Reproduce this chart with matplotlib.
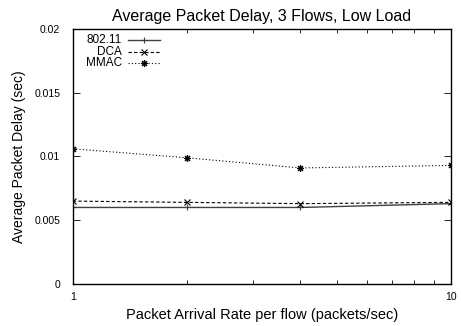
import numpy as np
import matplotlib
matplotlib.use('Agg')
import matplotlib.pyplot as plt
from matplotlib.ticker import LogLocator, NullFormatter, FixedLocator

plt.rcParams['font.family'] = ['Liberation Sans', 'DejaVu Sans']

## packet arrival rate per flow (packets/sec)
rate = [1, 2, 4, 10]
## average packet delay (sec)
d_80211 = [0.0060, 0.0060, 0.0060, 0.0063]
d_dca = [0.0065, 0.0064, 0.0063, 0.0064]
d_mmac = [0.0106, 0.0099, 0.0091, 0.0093]
names = ['802.11', 'DCA', 'MMAC']

fig = plt.figure(figsize=(4.61, 3.26), dpi=100)
ax = fig.add_axes([0.158, 0.129, 0.820, 0.782])

styles = [dict(color='#404040', ls='-', marker='+', lw=1.0, ms=5),
          dict(color='black', ls=(0, (3, 2)), marker='x', lw=0.8, ms=4),
          dict(color='black', ls=(0, (1, 2)), marker=(8, 2, 0), lw=0.8, ms=5)]
for y, s in zip([d_80211, d_dca, d_mmac], styles):
    ax.plot(rate, y, mew=0.8, **s)

ax.set_xscale('log')
ax.set_xlim(1, 10)
ax.set_ylim(0, 0.02)
ax.xaxis.set_major_locator(FixedLocator([1, 10]))
ax.xaxis.set_minor_locator(LogLocator(base=10, subs=np.arange(2, 10)))
ax.xaxis.set_minor_formatter(NullFormatter())
ax.set_xticklabels(['1', '10'])
ax.set_yticks([0, 0.005, 0.01, 0.015, 0.02])
ax.set_yticklabels(['0', '0.005', '0.01', '0.015', '0.02'])
ax.tick_params(which='both', direction='in', top=True, right=True,
               labelsize=7.5, length=5, width=0.6)
ax.tick_params(which='minor', length=3)
ax.tick_params(axis='x', pad=6)
ax.tick_params(axis='y', pad=9)
for sp in ax.spines.values():
    sp.set_linewidth(1.0)

ax.set_title('Average Packet Delay, 3 Flows, Low Load', fontsize=11.5, pad=6)
ax.set_xlabel('Packet Arrival Rate per flow (packets/sec)', fontsize=10.5, labelpad=4)
ax.set_ylabel('Average Packet Delay (sec)', fontsize=10, labelpad=6)

## key in the top left, text right aligned before the sample line
for i, (n, s) in enumerate(zip(names, styles)):
    yk = 0.955 - i * 0.045
    ax.text(0.13, yk, n, transform=ax.transAxes, ha='right', va='center', fontsize=8.5)
    ax.plot([0.145, 0.23], [yk, yk], transform=ax.transAxes, color=s['color'],
            ls=s['ls'], lw=s['lw'], clip_on=False)
    ax.plot([0.1875], [yk], transform=ax.transAxes, color=s['color'],
            marker=s['marker'], ms=s['ms'], mew=0.8, clip_on=False)

fig.savefig('out.png', dpi=100)
